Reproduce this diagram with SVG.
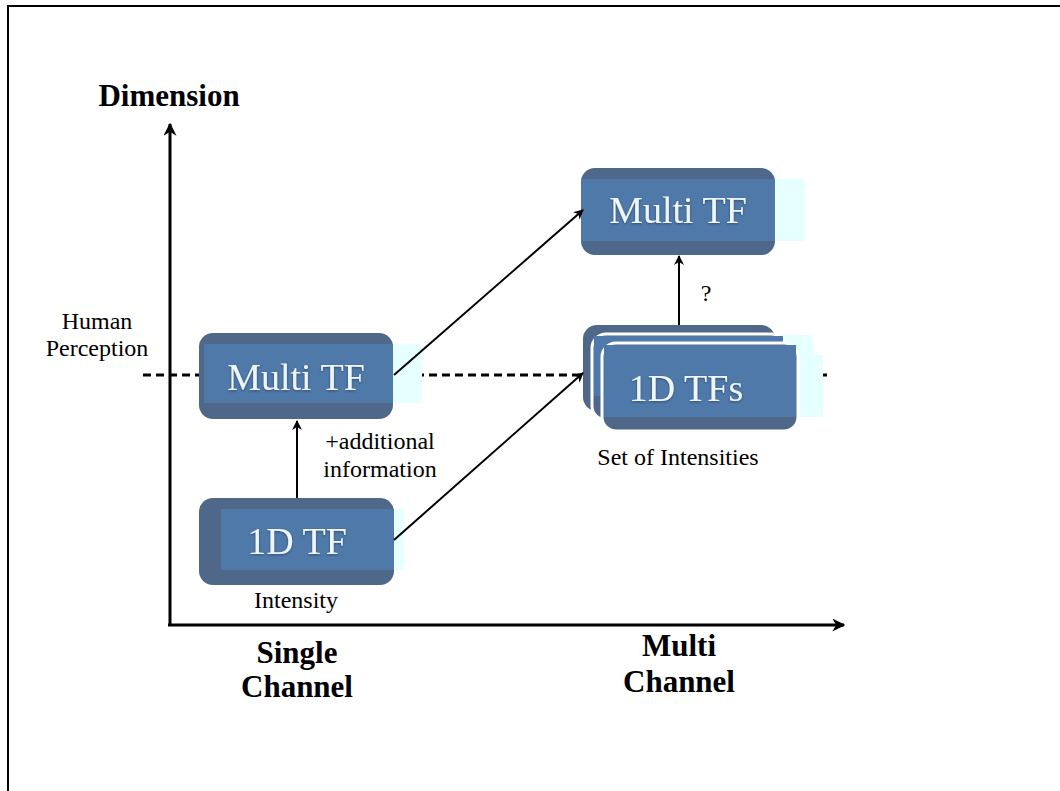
<svg xmlns="http://www.w3.org/2000/svg" width="1060" height="791" viewBox="0 0 1060 791">
  <defs>
    <marker id="arrow" viewBox="0 0 10 10" refX="9" refY="5" markerWidth="10" markerHeight="10" markerUnits="userSpaceOnUse" orient="auto">
      <path d="M0,0 L10,5 L0,10 L3,5 z" fill="#000"/>
    </marker>
    <marker id="axisArrow" viewBox="0 0 10 10" refX="9" refY="5" markerWidth="13" markerHeight="13" markerUnits="userSpaceOnUse" orient="auto">
      <path d="M0,0 L10,5 L0,10 L3,5 z" fill="#000"/>
    </marker>
    <filter id="soft" x="-5%" y="-20%" width="110%" height="140%">
      <feDropShadow dx="0" dy="1" stdDeviation="1" flood-color="#1c2c44" flood-opacity="0.6"/>
    </filter>
  </defs>
  <style>
    .frame { fill: none; stroke: #000; stroke-width: 2; }
    .axis { stroke: #000; stroke-width: 3; fill: none; }
    .dash { stroke: #000; stroke-width: 3; stroke-dasharray: 8 5; fill: none; }
    .conn { stroke: #000; stroke-width: 2; fill: none; }
    .outer { fill: #4f6889; }
    .inner { fill: #4f79a9; }
    .glow { fill: #e6ffff; }
    .edge { stroke: #fff; stroke-width: 3; }
    .label { font-family: "Liberation Serif", "Times New Roman", serif; fill: #eef6fa; font-size: 38px; text-anchor: middle; }
    .title { font-family: "Liberation Serif", "Times New Roman", serif; font-weight: bold; font-size: 31px; fill: #000; text-anchor: middle; }
    .note { font-family: "Liberation Serif", "Times New Roman", serif; font-size: 24px; fill: #000; text-anchor: middle; }
  </style>

  <rect width="1060" height="791" fill="#fff"/>
  <!-- page frame, open at right and bottom -->
  <path class="frame" d="M8,800 L8,6 L1070,6"/>

  <!-- perception threshold -->
  <line class="dash" x1="143" y1="375" x2="832" y2="375"/>

  <!-- axes -->
  <g id="axes">
    <line class="axis" x1="170" y1="626" x2="170" y2="124" marker-end="url(#axisArrow)"/>
    <line class="axis" x1="168" y1="625" x2="844" y2="625" marker-end="url(#axisArrow)"/>
  </g>

  <text class="title" x="169" y="106">Dimension</text>
  <text class="note" x="97" y="329">Human</text>
  <text class="note" x="97" y="356">Perception</text>
  <text class="title" x="297" y="663">Single</text>
  <text class="title" x="297" y="697">Channel</text>
  <text class="title" x="679" y="656">Multi</text>
  <text class="title" x="679" y="692">Channel</text>

  <!-- Multi TF (single channel) -->
  <g id="multi-tf-single">
    <rect class="glow" x="390" y="344" width="32" height="59"/>
    <rect class="outer" x="199" y="333" width="194" height="86" rx="14"/>
    <rect class="inner" x="204" y="344" width="189" height="59"/>
    <text class="label" x="296" y="390" filter="url(#soft)">Multi TF</text>
  </g>

  <!-- 1D TF -->
  <g id="tf-1d">
    <rect class="glow" x="392" y="509" width="12" height="61"/>
    <rect class="outer" x="199" y="498" width="195" height="87" rx="14"/>
    <rect class="inner" x="221" y="509" width="173" height="61"/>
    <text class="label" x="297" y="554" filter="url(#soft)">1D TF</text>
    <text class="note" x="296" y="608">Intensity</text>
  </g>

  <!-- Multi TF (multi channel) -->
  <g id="multi-tf-multi">
    <rect class="glow" x="772" y="179" width="33" height="62"/>
    <rect class="outer" x="581" y="168" width="194" height="87" rx="14"/>
    <rect class="inner" x="581" y="179" width="194" height="62"/>
    <text class="label" x="678" y="223" filter="url(#soft)">Multi TF</text>
  </g>

  <!-- 1D TFs stack -->
  <g id="tf-1d-set">
    <rect class="glow" x="770" y="335" width="42" height="76"/>
    <rect class="outer" x="583" y="325" width="192" height="86" rx="14"/>
    <rect class="glow" x="780" y="345" width="34" height="70"/>
    <rect class="outer edge" x="592" y="334" width="193" height="86" rx="14"/>
    <rect class="inner" x="594" y="336" width="189" height="60"/>
    <rect class="glow" x="792" y="355" width="31" height="62"/>
    <rect class="outer edge" x="602" y="343" width="196" height="88" rx="14"/>
    <rect class="inner" x="604" y="345" width="192" height="72"/>
    <text class="label" x="686" y="401" filter="url(#soft)">1D TFs</text>
    <text class="note" x="678" y="465">Set of Intensities</text>
  </g>

  <!-- connectors -->
  <g id="connectors">
    <line class="conn" x1="297" y1="498" x2="297" y2="421" marker-end="url(#arrow)"/>
    <line class="conn" x1="394" y1="540" x2="583" y2="373" marker-end="url(#arrow)"/>
    <line class="conn" x1="394" y1="375" x2="583" y2="210" marker-end="url(#arrow)"/>
    <line class="conn" x1="679" y1="325" x2="679" y2="256" marker-end="url(#arrow)"/>
  </g>

  <text class="note" x="380" y="449">+additional</text>
  <text class="note" x="380" y="477">information</text>
  <text class="note" x="706" y="301">?</text>
</svg>
